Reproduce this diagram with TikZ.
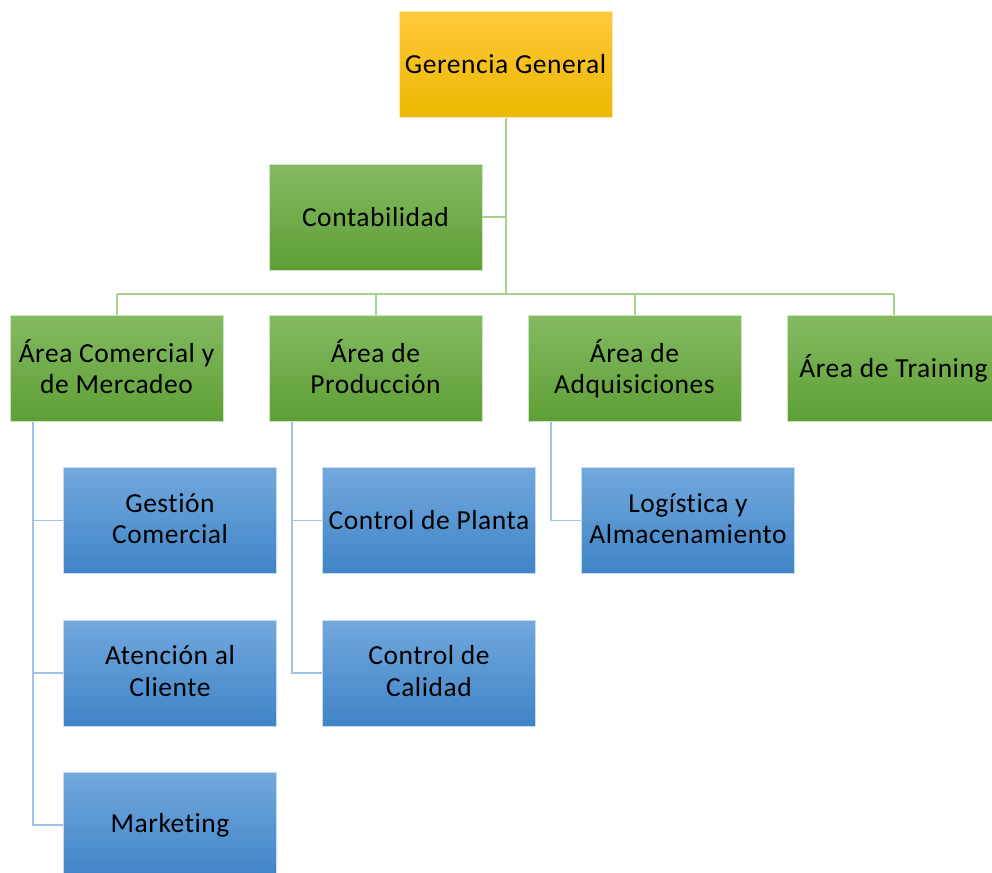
\documentclass[tikz,border=0pt]{standalone}
\usepackage{fontspec}
\setmainfont{Carlito}[Ligatures=NoCommon, LetterSpace=2]
\definecolor{goldtop}{HTML}{FFC83C}
\definecolor{goldbot}{HTML}{ECB800}
\definecolor{greentop}{HTML}{84BA62}
\definecolor{greenbot}{HTML}{5E9F35}
\definecolor{bluetop}{HTML}{72A8DD}
\definecolor{bluebot}{HTML}{3F84C7}
\definecolor{greenline}{HTML}{A9D18E}
\definecolor{blueline}{HTML}{9DC3E6}
\begin{document}
\begin{tikzpicture}[x=1pt,y=-1pt,
  box/.style={rectangle, minimum width=213pt, minimum height=106pt, inner sep=2pt,
    align=center, font=\fontsize{27.5}{31.5}\selectfont, text=black},
  twoline/.style={text depth=4pt},
  goldbox/.style={box, top color=goldtop, bottom color=goldbot, draw=goldtop!40, line width=0.6pt},
  greenbox/.style={box, top color=greentop, bottom color=greenbot, draw=greentop!40, line width=0.6pt},
  bluebox/.style={box, top color=bluetop, bottom color=bluebot, draw=bluetop!40, line width=0.6pt},
  gline/.style={draw=greenline, line width=2pt},
  bline/.style={draw=blueline, line width=1.8pt}]
\useasboundingbox (0,0) rectangle (992,872);
\clip (0,0) rectangle (992,872);
\fill[white] (0,0) rectangle (992,872);
% nodes
\node[goldbox] (gg) at (505.5,64.5) {Gerencia General};
\node[greenbox] (cont) at (375.5,217) {Contabilidad};
\node[greenbox,twoline] (a1) at (116.5,368.5) {Área Comercial y\\de Mercadeo};
\node[greenbox,twoline] (a2) at (375.5,368.5) {Área de\\Producción};
\node[greenbox,twoline] (a3) at (634.5,368.5) {Área de\\Adquisiciones};
\node[greenbox] (a4) at (893.5,368.5) {Área de Training};
\node[bluebox,twoline] (b1) at (170,520.5) {Gestión\\Comercial};
\node[bluebox,twoline] (b2) at (170,673) {Atención al\\Cliente};
\node[bluebox] (b3) at (170,825) {Marketing};
\node[bluebox] (c1) at (429,520.5) {Control de Planta};
\node[bluebox,twoline] (c2) at (429,673) {Control de\\Calidad};
\node[bluebox,twoline] (d1) at (688,520.5) {Logística y\\Almacenamiento};
\coordinate (bus) at (505.5,294);
% green connectors
\draw[gline] (gg.south) -- (bus);
\draw[gline] (cont.east) -- (cont.east -| gg.south);
\draw[gline] (a1.north |- bus) -- (a4.north |- bus);
\foreach \n in {a1,a2,a3,a4} \draw[gline] (\n.north) -- (\n.north |- bus);
% blue connectors
\coordinate (s1) at ([xshift=23pt]a1.south west);
\coordinate (s2) at ([xshift=23pt]a2.south west);
\coordinate (s3) at ([xshift=23pt]a3.south west);
\draw[bline] (s1) -- (s1 |- b3.west) -- (b3.west);
\draw[bline] (s1 |- b1.west) -- (b1.west);
\draw[bline] (s1 |- b2.west) -- (b2.west);
\draw[bline] (s2) -- (s2 |- c2.west) -- (c2.west);
\draw[bline] (s2 |- c1.west) -- (c1.west);
\draw[bline] (s3) -- (s3 |- d1.west) -- (d1.west);
\end{tikzpicture}
\end{document}
